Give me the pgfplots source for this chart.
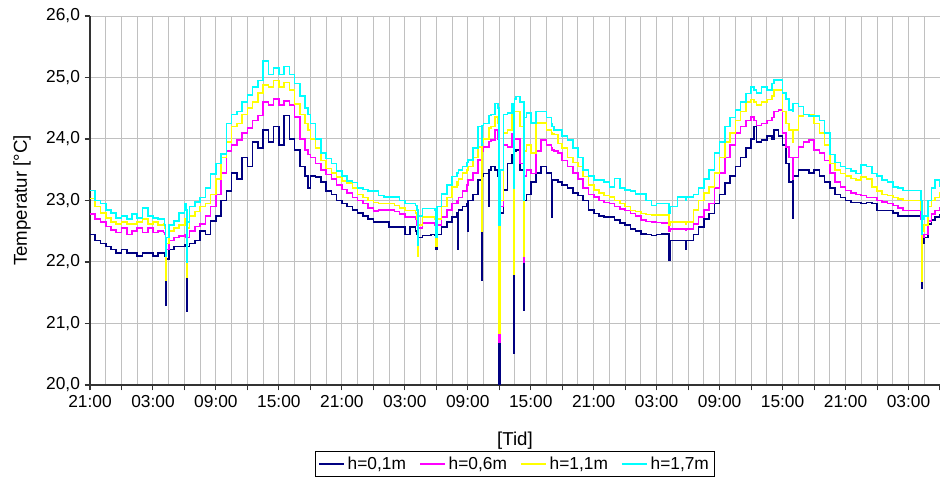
\documentclass[border=0pt]{standalone}
\usepackage{pgfplots}
\usepackage{pgfplotstable}
\pgfplotsset{compat=1.18}
\usepackage{fontspec}
\setmainfont{Liberation Sans}

\definecolor{hnavy}{RGB}{0,0,128}
\definecolor{hmag}{RGB}{255,0,255}
\definecolor{hyel}{RGB}{255,255,0}
\definecolor{hcyan}{RGB}{0,255,255}
\definecolor{gridgray}{RGB}{192,192,192}

% h = hours since 21:00, a..d = h=0,1m / 0,6m / 1,1m / 1,7m
\pgfplotstableread{
h a b c d
0 22.45 22.78 23.03 23.16
0.5 22.35 22.70 22.90 23.00
1.0 22.30 22.65 22.80 22.95
1.5 22.25 22.58 22.72 22.85
2.0 22.20 22.52 22.65 22.80
2.5 22.15 22.48 22.62 22.72
3.0 22.20 22.55 22.65 22.75
3.5 22.15 22.45 22.62 22.70
4.0 22.15 22.50 22.62 22.78
4.5 22.10 22.55 22.65 22.72
5.0 22.15 22.48 22.70 22.88
5.5 22.15 22.55 22.62 22.75
6.0 22.10 22.48 22.65 22.72
6.5 22.15 22.50 22.60 22.70
7.0 22.15 22.48 22.62 22.70
7.1 22.10 22.45 22.55 22.60
7.2 21.30 21.80 21.70 22.10
7.24 22.05 22.20 22.30 22.40
7.5 22.20 22.35 22.50 22.60
8.0 22.25 22.40 22.55 22.67
8.5 22.25 22.42 22.60 22.80
9.0 22.28 22.45 22.70 22.95
9.15 22.25 22.40 22.60 22.85
9.25 21.20 21.80 21.75 22.00
9.29 22.25 22.40 22.55 22.65
9.5 22.30 22.50 22.75 22.90
10.0 22.35 22.58 22.82 22.98
10.5 22.50 22.62 22.90 23.05
11.0 22.45 22.75 22.95 23.20
11.5 22.67 22.90 23.10 23.43
12.0 22.75 23.10 23.35 23.60
12.5 23.00 23.45 23.70 23.76
13.0 23.15 23.80 23.95 24.25
13.5 23.45 23.90 24.20 24.40
14.0 23.35 23.98 24.25 24.45
14.5 23.70 24.10 24.40 24.60
15.0 23.55 24.18 24.50 24.72
15.5 23.95 24.30 24.60 24.85
16.0 23.85 24.38 24.75 24.95
16.5 24.15 24.60 24.88 25.27
17.0 23.95 24.55 24.85 25.05
17.5 24.20 24.65 24.95 25.15
18.0 23.90 24.55 24.85 25.05
18.5 24.38 24.62 24.92 25.18
19.0 24.00 24.55 24.80 25.05
19.5 23.82 24.36 24.57 24.90
20.0 23.55 24.00 24.40 24.70
20.5 23.40 23.82 24.25 24.50
20.8 23.20 23.75 24.15 24.40
21.0 23.40 23.70 24.00 24.25
21.5 23.38 23.60 23.85 24.00
22.0 23.30 23.50 23.65 23.77
22.5 23.15 23.42 23.52 23.68
23.0 23.10 23.35 23.45 23.60
23.5 23.00 23.25 23.38 23.48
24.0 22.95 23.18 23.32 23.40
24.5 22.90 23.12 23.28 23.32
25.0 22.85 23.05 23.20 23.29
25.5 22.80 23.00 23.10 23.20
26.0 22.75 22.95 23.05 23.18
26.5 22.70 22.88 23.00 23.15
27.0 22.65 22.83 22.97 23.15
27.5 22.65 22.85 22.95 23.08
28.0 22.65 22.85 22.95 23.06
28.5 22.57 22.85 22.95 23.06
29.0 22.57 22.82 22.92 23.06
29.5 22.57 22.78 22.88 23.00
30.0 22.45 22.73 22.84 22.95
30.5 22.57 22.73 22.84 22.95
31.0 22.50 22.70 22.80 22.92
31.15 22.45 22.60 22.70 22.85
31.26 22.30 22.35 22.10 22.27
31.3 22.40 22.55 22.60 22.75
31.7 22.43 22.63 22.73 22.87
32.0 22.43 22.63 22.73 22.87
32.5 22.45 22.63 22.73 22.87
32.9 22.43 22.60 22.70 22.85
33.0 22.20 22.40 22.25 22.40
33.04 22.45 22.60 22.70 22.90
33.5 22.57 22.73 22.90 23.11
34.0 22.65 22.85 23.05 23.25
34.5 22.73 22.95 23.22 23.39
34.95 22.80 23.00 23.30 23.45
35.07 22.20 22.95 23.25 23.45
35.11 22.85 23.05 23.35 23.50
35.5 22.90 23.15 23.45 23.55
35.9 22.95 23.25 23.50 23.62
36.0 22.50 23.25 23.52 23.65
36.04 23.00 23.33 23.55 23.66
36.5 23.10 23.45 23.70 23.85
37.0 23.33 23.66 23.87 24.20
37.3 21.70 23.30 22.50 23.90
37.34 23.40 23.80 23.95 24.22
37.5 23.44 23.87 24.00 24.25
38.0 22.90 23.95 24.15 24.36
38.04 23.50 23.96 24.18 24.38
38.2 23.55 23.98 24.20 24.40
38.6 23.50 24.15 24.36 24.58
38.9 23.40 24.00 24.25 24.50
39.0 20.00 20.70 20.85 22.60
39.05 22.80 22.90 23.00 23.50
39.4 23.17 23.90 24.10 24.40
39.8 23.60 23.87 24.15 24.42
40.2 23.75 24.09 24.40 24.58
40.4 20.52 21.80 21.80 23.20
40.44 23.80 24.00 24.45 24.65
40.6 23.82 24.00 24.45 24.69
41.0 23.50 23.60 24.20 24.60
41.36 21.22 22.00 22.10 23.00
41.4 23.00 23.40 23.80 24.35
41.6 23.10 23.50 23.90 24.42
42.0 23.30 23.44 23.77 24.26
42.5 23.45 23.80 24.26 24.45
43.0 23.55 23.98 24.26 24.45
43.5 23.45 23.90 24.15 24.35
43.96 22.73 23.85 24.10 24.25
44.0 23.33 23.82 24.08 24.20
44.2 23.33 23.80 24.07 24.15
44.6 23.30 23.77 23.93 24.15
45.0 23.25 23.65 23.85 24.05
45.5 23.20 23.55 23.70 23.98
46.0 23.12 23.45 23.62 23.85
46.5 23.08 23.35 23.55 23.70
47.0 23.00 23.20 23.39 23.50
47.5 22.85 23.10 23.25 23.40
48.0 22.79 23.06 23.17 23.33
48.5 22.75 23.00 23.12 23.33
49.0 22.73 22.97 23.08 23.30
49.5 22.73 22.95 23.06 23.22
50.0 22.68 22.90 23.00 23.36
50.5 22.63 22.86 22.95 23.20
51.0 22.60 22.84 22.90 23.17
51.5 22.54 22.79 22.84 23.15
52.0 22.50 22.75 22.82 23.11
52.5 22.46 22.68 22.79 23.11
53.0 22.45 22.66 22.77 23.00
53.5 22.43 22.65 22.76 22.92
54.0 22.45 22.64 22.76 22.95
54.5 22.46 22.63 22.76 22.95
55.0 22.46 22.63 22.76 22.95
55.2 22.03 22.50 22.60 22.79
55.25 22.35 22.54 22.65 22.90
56.0 22.35 22.54 22.65 23.06
56.5 22.35 22.54 22.65 23.06
56.8 22.20 22.52 22.62 23.00
56.85 22.35 22.54 22.65 23.06
57.5 22.45 22.62 22.85 23.10
58.0 22.57 22.73 23.00 23.20
58.5 22.70 22.85 23.12 23.35
59.0 22.79 22.95 23.22 23.50
59.5 22.95 23.20 23.45 23.77
60.0 23.10 23.45 23.70 23.95
60.5 23.28 23.70 23.95 24.20
61.0 23.40 23.90 24.10 24.35
61.5 23.55 24.10 24.30 24.47
62.0 23.70 24.20 24.45 24.60
62.5 23.85 24.30 24.60 24.74
63.0 24.00 24.36 24.64 24.85
63.3 24.20 24.30 24.60 24.80
63.5 23.95 24.22 24.55 24.75
64.0 23.98 24.25 24.60 24.85
64.5 24.05 24.30 24.64 24.80
65.0 24.00 24.35 24.70 24.90
65.2 24.15 24.45 24.80 24.96
65.6 24.05 24.47 24.80 24.96
66.0 23.90 24.10 24.45 24.75
66.3 23.60 23.87 24.25 24.65
66.6 23.30 23.70 24.15 24.47
66.96 22.72 23.35 23.95 24.45
67.0 23.40 23.70 24.15 24.58
67.5 23.50 23.87 24.37 24.53
68.0 23.50 23.95 24.40 24.40
68.5 23.45 23.98 24.40 24.37
69.0 23.50 23.82 24.25 24.37
69.5 23.40 23.77 24.10 24.30
70.0 23.30 23.65 23.90 24.10
70.5 23.20 23.45 23.60 23.75
71.0 23.10 23.30 23.50 23.62
71.5 23.05 23.22 23.44 23.55
72.0 23.00 23.16 23.40 23.52
72.5 22.97 23.12 23.36 23.48
73.0 22.97 23.10 23.33 23.44
73.5 22.95 23.08 23.38 23.58
74.0 22.97 23.05 23.35 23.55
74.5 22.95 23.05 23.22 23.44
75.0 22.84 23.00 23.15 23.40
75.5 22.84 22.98 23.10 23.33
76.0 22.84 22.95 23.08 23.30
76.5 22.80 22.92 23.05 23.22
77.0 22.75 22.88 23.02 23.20
77.5 22.75 22.84 23.00 23.16
78.0 22.75 22.84 23.00 23.16
78.5 22.75 22.84 23.00 23.16
79.0 22.75 22.84 23.00 23.16
79.2 22.70 22.70 22.85 23.00
79.3 21.58 22.18 21.69 22.45
79.34 22.30 22.40 22.50 22.70
79.5 22.40 22.45 22.60 22.75
79.85 22.62 22.67 22.90 23.00
80.2 22.68 22.78 23.00 23.20
80.5 22.73 22.84 23.05 23.33
81.0 22.78 22.90 23.14 23.22
}\datatable

\begin{document}
\begin{tikzpicture}
\path[use as bounding box] (-67.5pt,-88.5pt) rectangle (637.5pt,288.75pt);
\begin{axis}[
  at={(0,0)}, anchor=south west,
  scale only axis,
  width=637.5pt, height=276.75pt,
  xmin=0, xmax=81, ymin=20, ymax=26,
  axis x line=bottom, axis y line=left,
  axis line style={black!80, line width=0.8pt, -},
  xtick={0,3,...,81},
  xticklabels={21:00,,03:00,,09:00,,15:00,,21:00,,03:00,,09:00,,15:00,,21:00,,03:00,,09:00,,15:00,,21:00,,03:00,,},
  minor x tick num=1,
  ytick={20,21,...,26},
  xmajorgrids, xminorgrids, ymajorgrids,
  grid style={gridgray, line width=0.75pt},
  minor grid style={gridgray, line width=0.75pt},
  tick align=outside,
  major tick length=4pt, minor tick length=0pt,
  tick style={black!80, line width=0.8pt},
  yticklabel style={/pgf/number format/.cd, fixed, fixed zerofill, precision=1, use comma, assume math mode=true},
  ticklabel style={font=\fontsize{13}{15}\selectfont},
  xlabel={[Tid]},
  ylabel={Temperatur [°C]},
  label style={font=\fontsize{14}{16}\selectfont},
  xlabel style={at={(axis description cs:0.5,-0.152)}, anchor=center},
  ylabel style={at={(axis description cs:-0.08,0.5)}, anchor=center},
  legend columns=-1,
  legend style={at={(0.5,-0.214)}, anchor=center, draw=black, line width=0.6pt,
    font=\fontsize{13}{15}\selectfont, inner sep=2pt,
    /tikz/every even column/.append style={column sep=8pt}},
  legend image code/.code={\draw[#1, line width=1pt] (0pt,0pt) -- (19pt,0pt);},
  no markers,
  clip=true,
  every axis plot/.append style={const plot, line width=1.2pt, line join=miter},
]
\addplot[hnavy] table[x=h, y=a] {\datatable};
\addlegendentry{h=0,1m}
\addplot[hmag] table[x=h, y=b] {\datatable};
\addlegendentry{h=0,6m}
\addplot[hyel] table[x=h, y=c] {\datatable};
\addlegendentry{h=1,1m}
\addplot[hcyan] table[x=h, y=d] {\datatable};
\addlegendentry{h=1,7m}
\end{axis}
\end{tikzpicture}
\end{document}
